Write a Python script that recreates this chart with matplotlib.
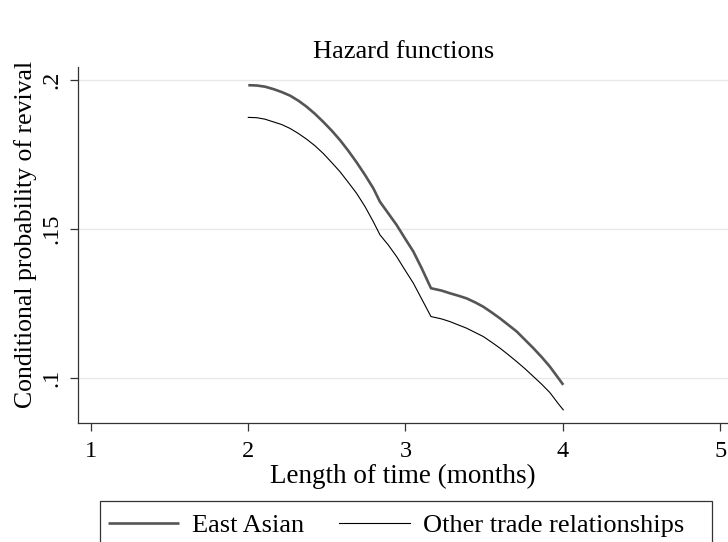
import numpy as np
from matplotlib import pyplot as plt
from matplotlib.patches import Rectangle

# hazard estimates
months = [2.002, 2.055, 2.108, 2.161, 2.214, 2.267, 2.320, 2.372, 2.425, 2.478,
          2.531, 2.584, 2.637, 2.690, 2.743, 2.796, 2.838, 2.891, 2.944, 2.997,
          3.050, 3.103, 3.162, 3.230, 3.283, 3.335, 3.388, 3.441, 3.494, 3.547,
          3.600, 3.653, 3.706, 3.759, 3.812, 3.865, 3.917, 3.970, 4.002]
east_asian = [0.1983, 0.1982, 0.1978, 0.1970, 0.1960, 0.1948, 0.1931, 0.1911, 0.1887, 0.1860,
              0.1831, 0.1799, 0.1763, 0.1724, 0.1682, 0.1637, 0.1592, 0.1553, 0.1514, 0.1469,
              0.1425, 0.1369, 0.1302, 0.1294, 0.1285, 0.1277, 0.1268, 0.1255, 0.1240, 0.1221,
              0.1201, 0.1179, 0.1157, 0.1129, 0.1101, 0.1071, 0.1039, 0.1001, 0.0978]
other_trade = [0.1875, 0.1874, 0.1869, 0.1860, 0.1851, 0.1838, 0.1821, 0.1802, 0.1780, 0.1754,
               0.1724, 0.1693, 0.1657, 0.1620, 0.1576, 0.1525, 0.1481, 0.1447, 0.1408, 0.1363,
               0.1319, 0.1266, 0.1207, 0.1199, 0.1190, 0.1179, 0.1168, 0.1154, 0.1140, 0.1121,
               0.1101, 0.1079, 0.1056, 0.1032, 0.1006, 0.0980, 0.0952, 0.0915, 0.0894]

x_ticks = [1, 2, 3, 4, 5]
y_ticks = [0.1, 0.15, 0.2]
y_ticklabels = [".1", ".15", ".2"]

plt.rcParams['font.family'] = ['Liberation Serif', 'DejaVu Serif']
tick_fs = 17.5
label_fs = 19.5
leg_fs = 19

fig = plt.figure(figsize=(7.28, 5.42), dpi=100)
ax = fig.add_axes([78.3 / 728, 1 - 423 / 542, (728 - 78.3) / 728, (423 - 67) / 542])

ax.plot(months, east_asian, color='#555555', lw=1.9, label='East Asian', solid_capstyle='butt')
ax.plot(months, other_trade, color='black', lw=0.8, label='Other trade relationships')

ax.set_xlim(0.9225, 5.048)
ax.set_ylim(0.085, 0.2044)
ax.set_xticks(x_ticks)
ax.set_yticks(y_ticks)
ax.set_yticklabels(y_ticklabels, rotation=90, va='center')
ax.grid(axis='y', color='#e8e8e8', lw=1.0)
ax.set_axisbelow(True)

for s in ['top', 'right']:
    ax.spines[s].set_visible(False)
for s in ['left', 'bottom']:
    ax.spines[s].set_color('#333333')
    ax.spines[s].set_linewidth(0.9)
ax.tick_params(direction='out', length=5.8, width=0.9, color='#333333', labelsize=tick_fs)
ax.tick_params(axis='x', pad=7)
ax.tick_params(axis='y', pad=6)

ax.set_xlabel("Length of time (months)", fontsize=label_fs, labelpad=1.5)
ax.set_ylabel("Conditional probability of revival", fontsize=18.5)
ax.yaxis.set_label_coords(-0.063, (423 - 234) / 356)
fig.text(404 / 728, 1 - 58.3 / 542, "Hazard functions", fontsize=19, ha='center', va='baseline')

# legend box runs off the bottom of the figure
fig.add_artist(Rectangle((100 / 728, -0.05), 612 / 728, 0.05 + 1 - 501 / 542,
                         transform=fig.transFigure, fill=False, edgecolor='#333333', lw=0.9))
fig.legend(loc='upper left', bbox_to_anchor=(108 / 728, 1 - 514 / 542), ncol=2,
           fontsize=leg_fs, frameon=False, borderpad=0, borderaxespad=0,
           handlelength=2.7, handletextpad=0.5, columnspacing=1.3)

fig.savefig("out.png", dpi=100)
